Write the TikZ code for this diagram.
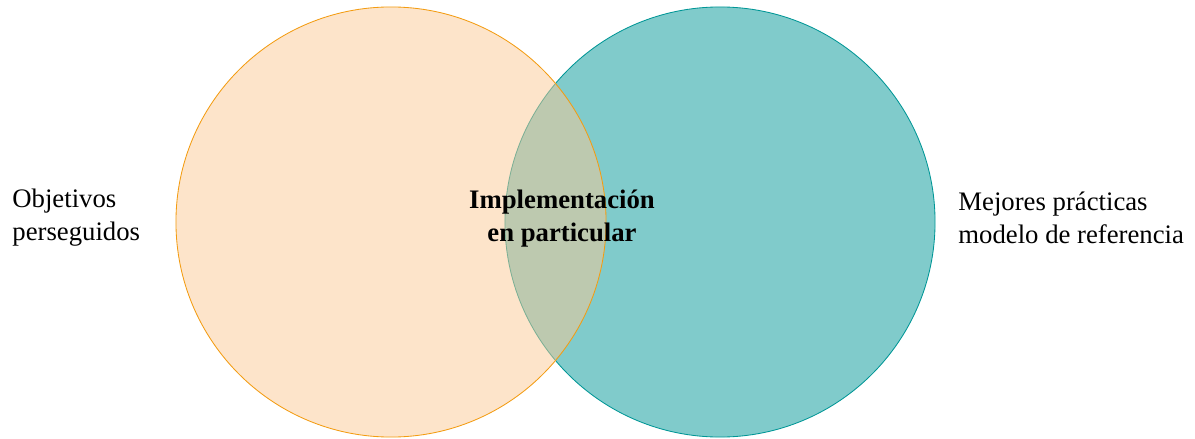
\documentclass[tikz,border=0pt]{standalone}
\usepackage{fontspec}
\setmainfont{Liberation Serif}
\usetikzlibrary{%
  backgrounds,%
  positioning,% wg. " of "
  shapes%
}
\definecolor{orangeline}{RGB}{243,156,18}
\definecolor{orangefill}{RGB}{251,201,149}
\definecolor{tealline}{RGB}{0,150,150}
\definecolor{tealfill}{RGB}{128,203,203}

\begin{document}
\begin{tikzpicture}
[x=0.025cm, y=-0.025cm, line width=0.6pt,
set/.style={circle, inner sep=0pt, minimum size=10.75cm},
label/.style={inner sep=0pt, font=\fontsize{19}{23.5}\selectfont}]

\useasboundingbox (0,0) rectangle (1195,439);
\node[set, draw=tealline, fill=tealfill] (practicas) at (720,222) {};
\node[set, draw=orangeline, fill=orangefill, fill opacity=0.5] (objetivos) at (391,222) {};
\node[label, align=left, anchor=west] (objtext) at (12,218) {Objetivos\\perseguidos};
\node[label, align=left, anchor=west] (mejtext) at (958,218) {Mejores prácticas\\modelo de referencia};
\node[label, align=center, font=\fontsize{19}{23.5}\selectfont\bfseries] (impl) at (562,219) {Implementación\\en particular};
\end{tikzpicture}
\end{document}
